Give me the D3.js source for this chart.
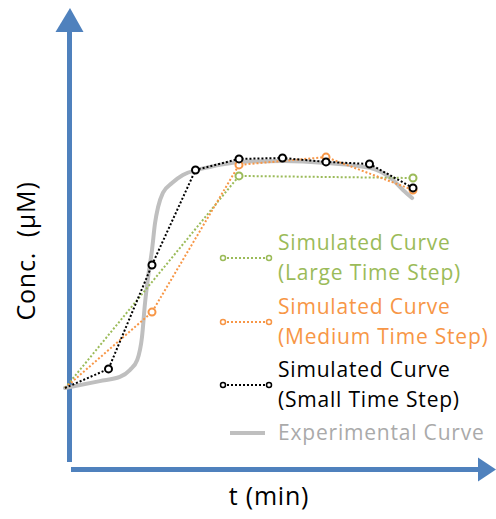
<!DOCTYPE html>
<html lang="en">
<head>
<meta charset="UTF-8">
<title>conc vs time</title>
<style>
  body { margin: 0; background: #fff; }
  svg { display: block; }
  .axisLabel { font: 25px "Open Sans", sans-serif; fill: #000; letter-spacing: 0.8px; white-space: pre; }
  .legendText { font: 21px "Open Sans", sans-serif; letter-spacing: 0.8px; }
</style>
</head>
<body>
<div class="content"></div>
<script src="https://cdn.jsdelivr.net/npm/d3@7"></script>
<script>
  var width = 496, height = 519;

  // time steps (small step = 1 unit)
  var smallT = [0, 1, 2, 3, 4, 5, 6, 7, 8];
  var smallV = [0, 8.3, 53.5, 94.8, 99.6, 100, 98.3, 97.4, 87.0];
  var mediumT = [0, 2, 4, 6, 8];
  var mediumV = [0, 33.0, 97.0, 100.4, 86.1];
  var largeT = [0, 4, 8];
  var largeV = [0, 92.2, 91.3];
  var expT = [0, 0.80, 1.26, 1.49, 1.66, 1.77, 1.84, 1.91, 2.00, 2.07, 2.14, 2.25, 2.46, 2.71, 3.03, 3.33, 3.56, 4.02, 5.01, 6.02, 7.01, 7.54, 7.77, 7.98];
  var expV = [0, 3.0, 4.8, 7.8, 12.2, 22.2, 37.0, 48.3, 60.0, 71.7, 78.7, 84.8, 89.1, 92.6, 94.8, 96.1, 97.0, 98.3, 98.7, 97.8, 95.7, 90.4, 86.1, 82.6];

  var legendLabels = [
    ["Simulated Curve", "(Large Time Step)"],
    ["Simulated Curve", "(Medium Time Step)"],
    ["Simulated Curve", "(Small Time Step)"],
    ["Experimental Curve"]
  ];

  var green = "#9bbb59", orange = "#f79646", gray = "#bfbfbf", blue = "#4f81bd";

  var x = d3.scaleLinear().domain([0, 8]).range([65, 413]);
  var y = d3.scaleLinear().domain([0, 100]).range([388, 158]);

  var svg = d3.select(".content").append("svg")
    .attr("width", width)
    .attr("height", height);

  // axes with arrow heads
  var axisX = 69.5, axisY = 469.5;
  svg.append("line")
    .attr("x1", axisX).attr("y1", 462).attr("x2", axisX).attr("y2", 30)
    .attr("stroke", blue).attr("stroke-width", 5);
  svg.append("path")
    .attr("d", "M" + (axisX - 14) + ",32L" + (axisX + 0.5) + ",8L" + (axisX + 14) + ",32Z")
    .attr("fill", blue);
  svg.append("line")
    .attr("x1", 71).attr("y1", axisY).attr("x2", 480).attr("y2", axisY)
    .attr("stroke", blue).attr("stroke-width", 5);
  svg.append("path")
    .attr("d", "M478," + (axisY - 12) + "L496," + axisY + "L478," + (axisY + 12) + "Z")
    .attr("fill", blue);

  svg.append("text")
    .attr("class", "axisLabel")
    .attr("text-anchor", "middle")
    .attr("transform", "translate(35,251) rotate(-90)")
    .text("Conc.  (\u03bcM)");
  svg.append("text")
    .attr("class", "axisLabel")
    .attr("text-anchor", "middle")
    .attr("x", 269).attr("y", 505)
    .text("t (min)");

  // experimental curve
  var expLine = d3.line()
    .x(function (d) { return x(d[0]); })
    .y(function (d) { return y(d[1]); })
    .curve(d3.curveMonotoneX);
  svg.append("path")
    .attr("d", expLine(d3.zip(expT, expV)))
    .attr("fill", "none")
    .attr("stroke", gray)
    .attr("stroke-width", 4)
    .attr("stroke-linecap", "round");

  var simLine = d3.line()
    .x(function (d) { return x(d[0]); })
    .y(function (d) { return y(d[1]); });

  var series = [
    { t: largeT, v: largeV, color: green },
    { t: mediumT, v: mediumV, color: orange },
    { t: smallT, v: smallV, color: "#000" }
  ];

  series.forEach(function (s) {
    var pts = d3.zip(s.t, s.v);
    svg.append("path")
      .attr("d", simLine(pts))
      .attr("fill", "none")
      .attr("stroke", s.color)
      .attr("stroke-width", 2)
      .attr("stroke-dasharray", "2,2");
    svg.selectAll(null)
      .data(pts.slice(1))
      .enter().append("circle")
      .attr("cx", function (d) { return x(d[0]); })
      .attr("cy", function (d) { return y(d[1]); })
      .attr("r", 3.5)
      .attr("fill", "#fff")
      .attr("stroke", s.color)
      .attr("stroke-width", 2);
  });

  // legend
  var legendColors = [green, orange, "#000", "#aaaaaa"];
  var legendTop = [250, 314, 377, 440];
  var legend = svg.append("g").attr("class", "legend");
  legendLabels.forEach(function (lines, i) {
    var g = legend.append("g");
    var text = g.append("text")
      .attr("class", "legendText")
      .attr("fill", legendColors[i]);
    lines.forEach(function (l, j) {
      text.append("tspan").attr("x", 278).attr("y", legendTop[i] + j * 30).text(l);
    });
    if (i < 3) {
      var my = legendTop[i] + 8;
      g.append("line")
        .attr("x1", 223).attr("x2", 269).attr("y1", my).attr("y2", my)
        .attr("stroke", series[i].color).attr("stroke-width", 2)
        .attr("stroke-dasharray", "2,2");
      g.selectAll("circle").data([223, 269]).enter().append("circle")
        .attr("cx", function (d) { return d; }).attr("cy", my)
        .attr("r", 2.5).attr("fill", "#fff")
        .attr("stroke", series[i].color).attr("stroke-width", 1.5);
    } else {
      g.append("line")
        .attr("x1", 230).attr("x2", 265).attr("y1", 433).attr("y2", 433)
        .attr("stroke", gray).attr("stroke-width", 4);
    }
  });
</script>
</body>
</html>
